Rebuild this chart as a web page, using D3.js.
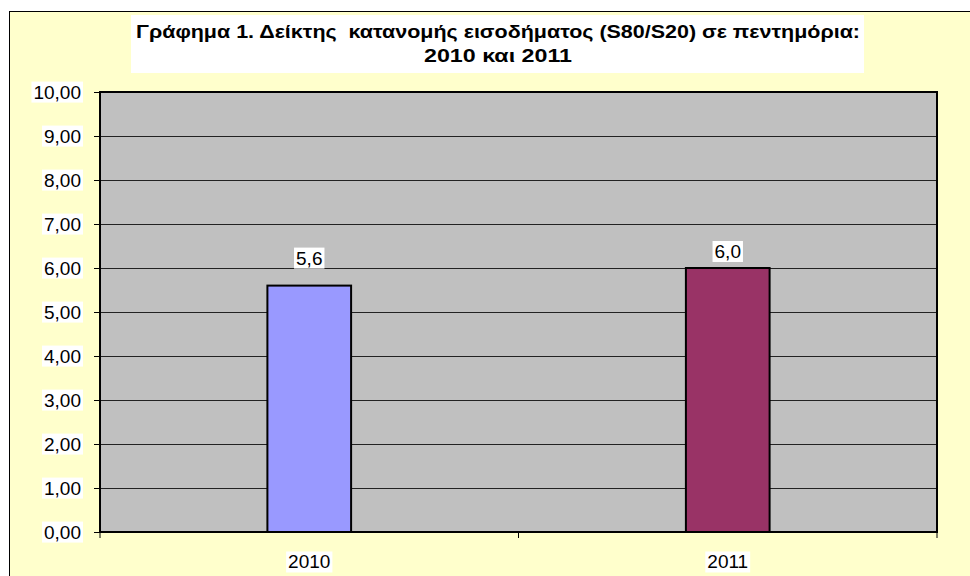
<!DOCTYPE html>
<html lang="el">
<head>
  <meta charset="UTF-8">
  <title>Γράφημα 1</title>
  <script src="https://d3js.org/d3.v7.min.js"></script>
  <style>
    body { margin: 0; background: #ffffff; }
    svg { display: block; }
    text { font-family: "Liberation Sans", Arial, sans-serif; fill: #000; }
  </style>
</head>
<body>
  <svg></svg>
  <script>
    // δεδομένα
    const years = ['2010', '2011'];
    const values = [5.6, 6.0];
    const colors = ['#9999ff', '#993366'];
    const yTicks = [0, 1, 2, 3, 4, 5, 6, 7, 8, 9, 10];
    const titleLines = ['Γράφημα 1. Δείκτης  κατανομής εισοδήματος (S80/S20) σε πεντημόρια:', '2010 και 2011'];

    const W = 970, H = 576;
    const plot = {left: 100, top: 92, right: 937, bottom: 532};

    const svg = d3.select('svg').attr('width', W).attr('height', H);

    // φόντο γραφήματος
    svg.append('rect')
      .attr('x', 9.5).attr('y', 11.5)
      .attr('width', W + 10).attr('height', H + 10)
      .attr('fill', '#ffffcc').attr('stroke', '#000').attr('stroke-width', 1);

    // τίτλος
    svg.append('rect')
      .attr('x', 131).attr('y', 15).attr('width', 733).attr('height', 58)
      .attr('fill', '#fff');
    svg.append('g').selectAll('text')
      .data(titleLines)
      .enter().append('text')
      .attr('x', 498)
      .attr('y', (d, i) => 38 + i * 24)
      .attr('text-anchor', 'middle')
      .attr('textLength', (d, i) => i === 0 ? 724 : 148)
      .attr('lengthAdjust', 'spacingAndGlyphs')
      .style('white-space', 'pre')
      .style('font-weight', 'bold')
      .style('font-size', '18px')
      .text(d => d);

    const x = d3.scaleBand().domain(years).range([plot.left, plot.right]);
    const y = d3.scaleLinear().domain([0, 10]).range([plot.bottom, plot.top]);

    // περιοχή σχεδίασης
    svg.append('rect')
      .attr('x', plot.left).attr('y', plot.top)
      .attr('width', plot.right - plot.left).attr('height', plot.bottom - plot.top)
      .attr('fill', '#c0c0c0');

    // γραμμές πλέγματος
    svg.append('g').selectAll('line')
      .data(yTicks.slice(1, -1))
      .enter().append('line')
      .attr('x1', plot.left).attr('x2', plot.right)
      .attr('y1', d => Math.round(y(d)) + 0.5).attr('y2', d => Math.round(y(d)) + 0.5)
      .attr('stroke', '#222').attr('stroke-width', 1);

    // ράβδοι
    const barW = x.bandwidth() * 0.2;
    svg.append('g').selectAll('rect')
      .data(values)
      .enter().append('rect')
      .attr('x', (d, i) => x(years[i]) + x.bandwidth() / 2 - barW / 2)
      .attr('y', d => y(d))
      .attr('width', barW)
      .attr('height', d => y(0) - y(d))
      .attr('fill', (d, i) => colors[i])
      .attr('stroke', '#000').attr('stroke-width', 2);

    // περίγραμμα
    svg.append('rect')
      .attr('x', plot.left).attr('y', plot.top)
      .attr('width', plot.right - plot.left).attr('height', plot.bottom - plot.top)
      .attr('fill', 'none').attr('stroke', '#000').attr('stroke-width', 2);

    // άξονας y
    const yAxis = svg.append('g')
      .attr('transform', `translate(${plot.left},0)`)
      .call(d3.axisLeft(y).tickValues(yTicks).tickSize(6).tickPadding(13)
        .tickFormat(d => d3.format('.2f')(d).replace('.', ',')));
    yAxis.select('.domain').remove();
    yAxis.selectAll('line').attr('stroke', '#000');
    yAxis.selectAll('text').style('font-size', '19px').attr('fill', '#000');

    // άξονας x
    const xAxis = svg.append('g')
      .attr('transform', `translate(0,${plot.bottom})`)
      .call(d3.axisBottom(x).tickSize(0).tickPadding(23));
    xAxis.select('.domain').remove();
    xAxis.selectAll('text').style('font-size', '19px').attr('fill', '#000');
    svg.append('g').selectAll('line')
      .data([plot.left, plot.left + x.bandwidth(), plot.right])
      .enter().append('line')
      .attr('x1', d => d).attr('x2', d => d)
      .attr('y1', plot.bottom).attr('y2', plot.bottom + 6)
      .attr('stroke', '#000');

    // λευκό φόντο πίσω από τις ετικέτες
    function labelBg(sel) {
      sel.each(function () {
        const b = this.getBBox();
        d3.select(this.parentNode).insert('rect', () => this)
          .attr('x', b.x - 2).attr('y', b.y)
          .attr('width', b.width + 4).attr('height', b.height)
          .attr('fill', '#fff')
          .attr('transform', this.getAttribute('transform'));
      });
    }

    // ετικέτες τιμών (απόσταση από την κορυφή όπως στο πρωτότυπο)
    const labelGap = [21, 10];
    const lbl = svg.append('g').selectAll('text')
      .data(values)
      .enter().append('text')
      .attr('x', (d, i) => x(years[i]) + x.bandwidth() / 2)
      .attr('y', (d, i) => y(d) - labelGap[i])
      .attr('text-anchor', 'middle')
      .style('font-size', '19px')
      .text(d => d3.format('.1f')(d).replace('.', ','));

    labelBg(yAxis.selectAll('text'));
    labelBg(xAxis.selectAll('text'));
    labelBg(lbl);
  </script>
</body>
</html>
